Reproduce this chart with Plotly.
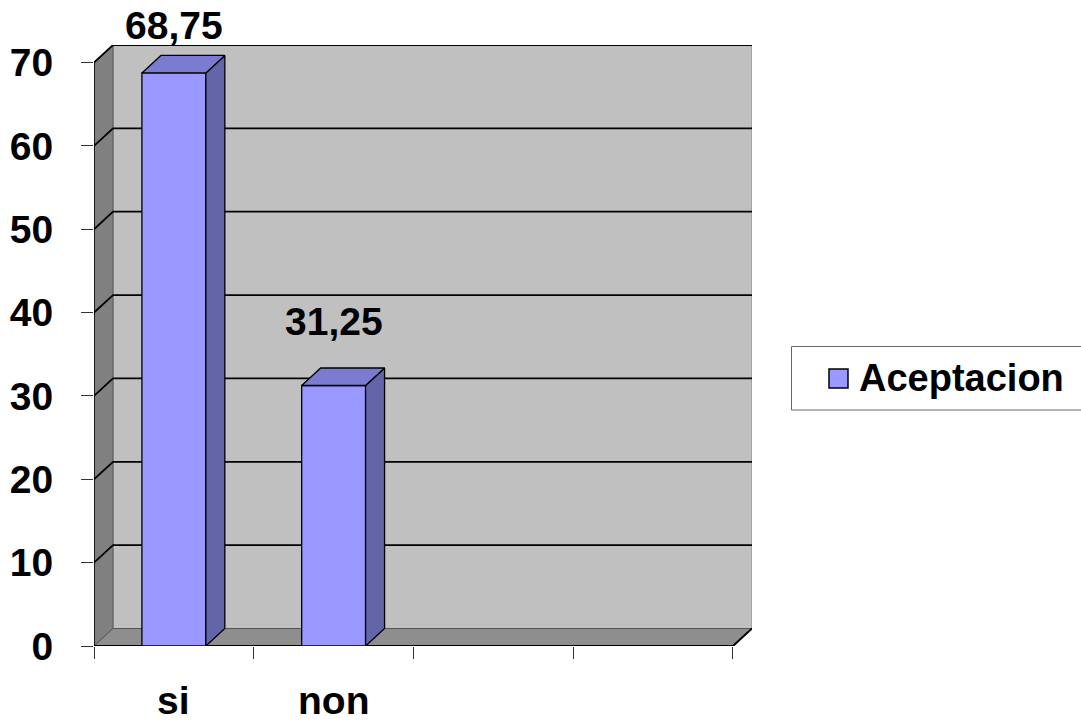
import plotly.graph_objects as go

# ---- data ----
categories = ["si", "non"]
values = [68.75, 31.25]
value_labels = ["68,75", "31,25"]
series_name = "Aceptacion"
y_ticks = [0, 10, 20, 30, 40, 50, 60, 70]
n_slots = 4

# ---- style ----
W, H = 1081, 722
L, R, T, B = 94, 329, 45, 76
DX = 0.119      # depth offset in x units
DY = 2.1        # depth offset in y units
YMAX = 70
FONT = "Liberation Sans, Arial, sans-serif"
FS = 39
FRONT = "#9999FF"
SIDE = "#6464A8"
TOP = "#7B7BD2"
BACKWALL = "#C0C0C0"
LEFTWALL = "#808080"
FLOOR = "#8E8E8E"
LABEL_SHIFT = [47, 64]

pw = W - L - R
ph = H - T - B


def px_x(p):
    return (p - L) / pw


def px_y(p):
    return (H - B - p) / ph


fig = go.Figure()


def poly(xs, ys, fill, line_color, lw=1.0):
    fig.add_trace(go.Scatter(
        x=list(xs) + [xs[0]], y=list(ys) + [ys[0]], mode="lines",
        fill="toself", fillcolor=fill,
        line=dict(color=line_color, width=lw),
        hoverinfo="skip", showlegend=False, cliponaxis=False))


def line(xs, ys, color, lw):
    fig.add_trace(go.Scatter(
        x=xs, y=ys, mode="lines", line=dict(color=color, width=lw),
        hoverinfo="skip", showlegend=False, cliponaxis=False))


# back wall
poly([DX, n_slots + DX, n_slots + DX, DX], [DY, DY, YMAX + DY, YMAX + DY],
     BACKWALL, "#8a8a8a", 1)
# left wall
poly([0, 0, DX, DX], [0, YMAX, YMAX + DY, DY], LEFTWALL, "#5a5a5a", 1)
# floor
poly([0, n_slots, n_slots + DX, DX], [0, 0, DY, DY], FLOOR, "#555555", 1)

# gridlines
gx, gy = [], []
for v in y_ticks[1:]:
    gx += [0, DX, n_slots + DX, None]
    gy += [v, v + DY, v + DY, None]
line(gx, gy, "#000000", 1.8)

# floor front & right edges, axis edge
line([0, n_slots, n_slots + DX], [0, 0, DY], "#000000", 2)
line([0, 0], [0, YMAX], "#000000", 1.5)

# bars
for i, v in enumerate(values):
    x0, x1 = i + 0.3, i + 0.7
    poly([x0, x1, x1, x0], [0, 0, v, v], FRONT, "#000000", 1.3)
    poly([x1, x1 + DX, x1 + DX, x1], [0, DY, v + DY, v], SIDE, "#000000", 1.3)
    poly([x0, x1, x1 + DX, x0 + DX], [v, v, v + DY, v + DY], TOP, "#000000", 1.3)
    fig.add_annotation(x=i + 0.5, y=v, xref="x", yref="y", text=value_labels[i],
                       showarrow=False, yshift=LABEL_SHIFT[i], yanchor="middle",
                       font=dict(family=FONT, size=FS, color="#000000", weight="bold"))
    fig.add_annotation(x=i + 0.5, y=0, xref="x", yref="y", text=categories[i],
                       showarrow=False, yshift=-54, yanchor="middle",
                       font=dict(family=FONT, size=FS, color="#000000", weight="bold"))

# legend (drawn)
fig.add_shape(type="rect", xref="paper", yref="paper",
              x0=px_x(791.5), x1=px_x(1090), y0=px_y(410), y1=px_y(346.5),
              line=dict(color="#666666", width=1), fillcolor="#FFFFFF")
fig.add_shape(type="rect", xref="paper", yref="paper",
              x0=px_x(829), x1=px_x(848), y0=px_y(388), y1=px_y(369),
              line=dict(color="#000000", width=1.5), fillcolor=FRONT)
fig.add_annotation(x=px_x(857), y=px_y(378), xref="paper", yref="paper",
                   text=series_name, showarrow=False, xanchor="left", yanchor="middle",
                   font=dict(family=FONT, size=FS - 1, color="#000000", weight="bold"))

fig.update_layout(
    width=W, height=H, autosize=False,
    margin=dict(l=L, r=R, t=T, b=B, pad=0),
    paper_bgcolor="#FFFFFF", plot_bgcolor="#FFFFFF",
    showlegend=False,
    xaxis=dict(range=[0, n_slots + DX], showgrid=False, zeroline=False, showline=False,
               tickvals=list(range(n_slots + 1)), ticktext=[""] * (n_slots + 1),
               ticks="outside", ticklen=12, tickcolor="#333333", tickwidth=1,
               automargin=False, fixedrange=True),
    yaxis=dict(range=[0, YMAX + DY], showgrid=False, zeroline=False, showline=False,
               tickvals=y_ticks, ticks="outside", ticklen=12, tickcolor="#333333",
               tickwidth=1, ticklabelstandoff=20, automargin=False,
               tickfont=dict(family=FONT, size=FS, color="#000000", weight="bold"),
               fixedrange=True),
)

fig.write_html("out.html")
